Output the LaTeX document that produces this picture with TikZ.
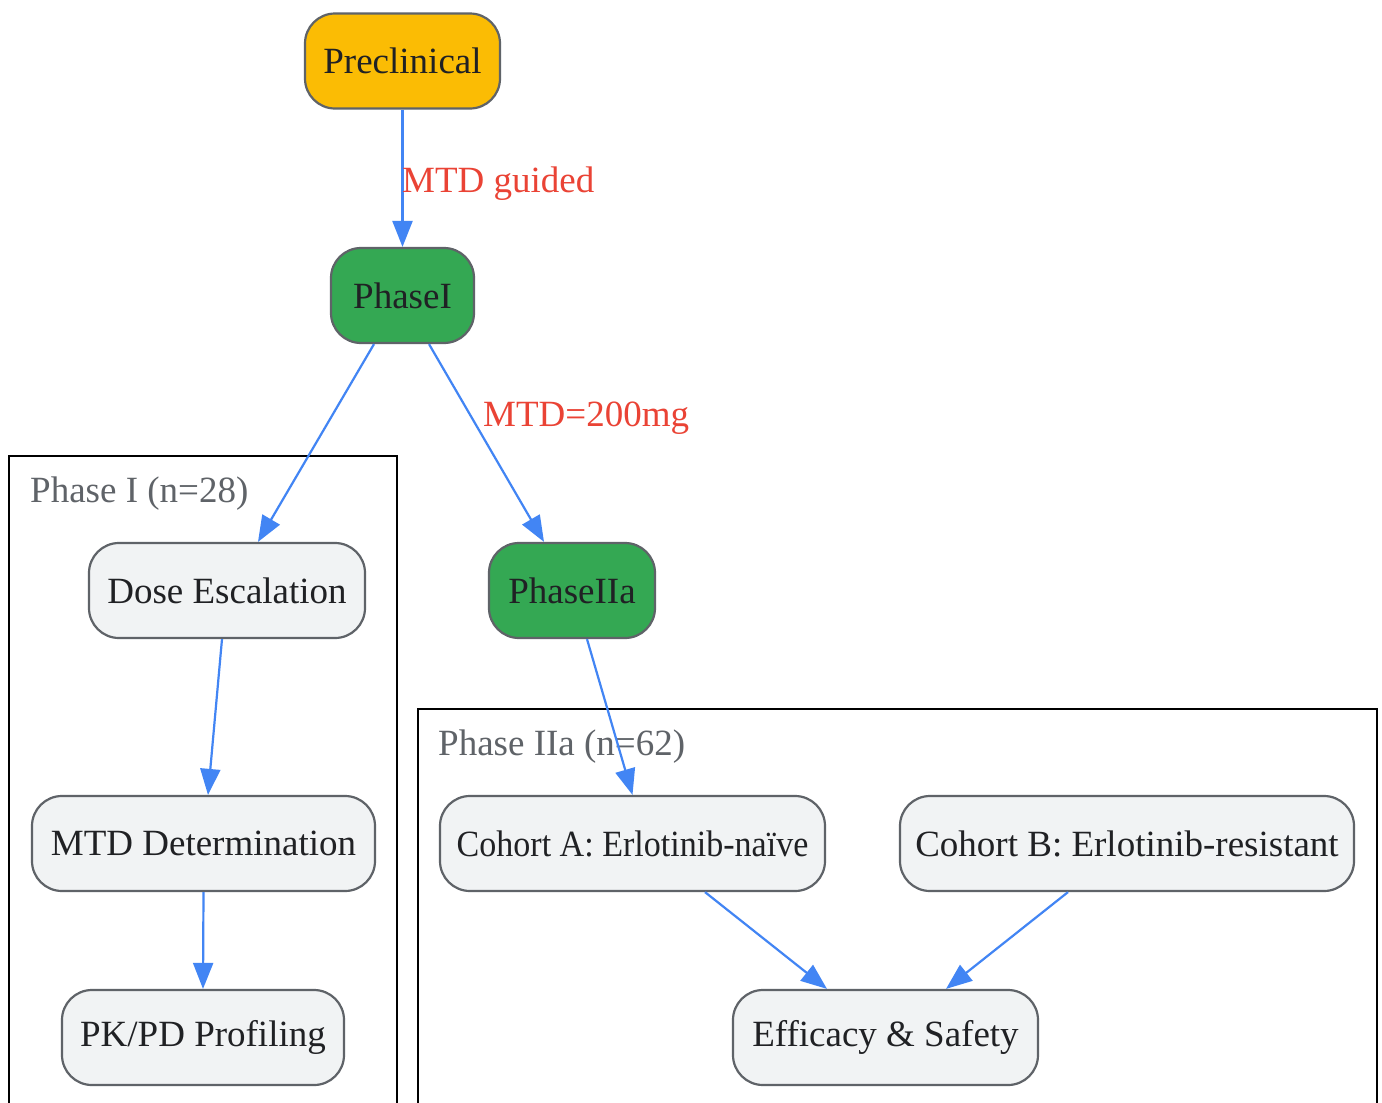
\documentclass[tikz,border=0pt]{standalone}
\usepackage{fontspec}
\setmainfont{Liberation Serif}
\usetikzlibrary{arrows.meta,calc}
\definecolor{cyellow}{HTML}{FBBC04}
\definecolor{cgreen}{HTML}{34A853}
\definecolor{cblue}{HTML}{4285F4}
\definecolor{cred}{HTML}{EA4335}
\definecolor{cfill}{HTML}{F1F3F4}
\definecolor{cborder}{HTML}{5F6368}
\definecolor{ctext}{HTML}{202124}
\tikzset{
  box/.style={draw=cborder, line width=2.2pt, rounded corners=30pt, fill=cfill,
    text=ctext, inner sep=0pt, minimum height=95pt,
    font=\fontsize{37}{44}\selectfont},
  edge/.style={draw=cblue, line width=2.2pt, -{Triangle[length=26pt,width=20pt]}},
  elabel/.style={text=cred, anchor=west, inner sep=0pt, font=\fontsize{37}{44}\selectfont},
  clabel/.style={text=cborder, anchor=west, inner sep=0pt, font=\fontsize{37}{44}\selectfont},
  cluster/.style={draw=black, line width=2.6pt}
}
\begin{document}
\begin{tikzpicture}[x=1pt,y=-1pt]
\useasboundingbox (0,0) rectangle (1382,1103);
\clip (0,0) rectangle (1382,1103);
\fill[white] (0,0) rectangle (1382,1103);
% clusters
\draw[cluster] (9,456) rectangle (397,1130);
\draw[cluster] (418,709) rectangle (1377,1130);
\node[clabel] (c1lab) at (30,494) {Phase I (n=28)};
\node[clabel] (c2lab) at (438,747) {Phase IIa (n=62)};
% nodes
\node[box, fill=cyellow, minimum width=195pt] (pre) at (402.5,61) {Preclinical};
\node[box, fill=cgreen, minimum width=143pt] (p1) at (402.5,295.5) {PhaseI};
\node[box, fill=cgreen, minimum width=166pt] (p2a) at (572,590.5) {PhaseIIa};
\node[box, minimum width=276pt] (dose) at (227,590.5) {Dose Escalation};
\node[box, minimum width=343pt] (mtd) at (203.5,843.5) {MTD Determination};
\node[box, minimum width=282pt] (pk) at (203,1037.5) {PK/PD Profiling};
\node[box, minimum width=385pt] (coha) at (632.5,843.5) {\scalebox{0.92}[1]{Cohort A: Erlotinib-naïve}};
\node[box, minimum width=454pt] (cohb) at (1127,843.5) {Cohort B: Erlotinib-resistant};
\node[box, minimum width=305pt] (eff) at (885.5,1037.5) {Efficacy \& Safety};
% edges
\draw[edge] (pre.south) -- (p1.north);
\node[elabel] (l1) at (402,184) {MTD guided};
\draw[edge] ($(p1.south)+(-28.5,0)$) -- ($(dose.north)+(31,0)$);
\draw[edge] ($(p1.south)+(26.5,0)$) -- ($(p2a.north)+(-28,0)$);
\node[elabel] (l2) at (483,418) {MTD=200mg};
\draw[edge] ($(p2a.south)+(15,0)$) -- ($(coha.north)+(0,0)$);
\draw[edge] ($(dose.south)+(-5,0)$) -- ($(mtd.north)+(4.5,0)$);
\draw[edge] (mtd.south) -- (pk.north);
\draw[edge] ($(coha.south)+(72.5,0)$) -- ($(eff.north)+(-58.5,0)$);
\draw[edge] ($(cohb.south)+(-59,0)$) -- ($(eff.north)+(60.5,0)$);
\end{tikzpicture}
\end{document}
